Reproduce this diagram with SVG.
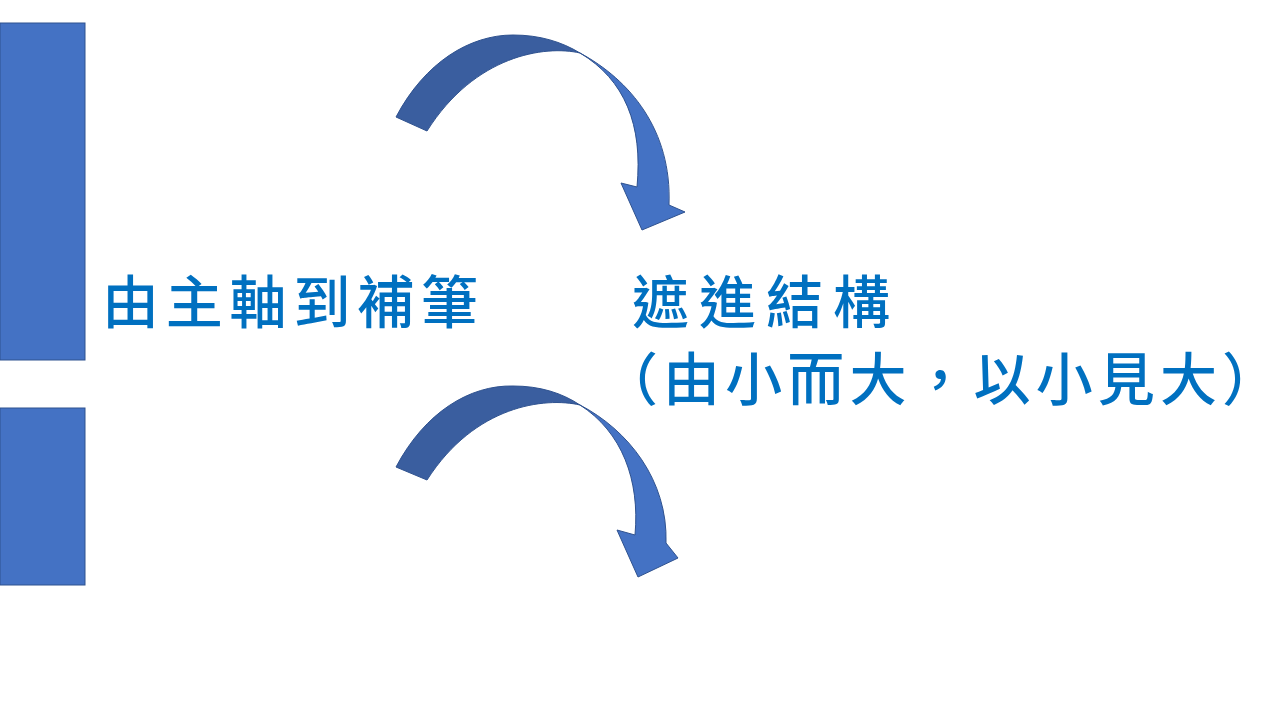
<svg xmlns="http://www.w3.org/2000/svg" width="1280" height="720" viewBox="0 0 1280 720">
<style>
.bar{fill:#4472C4;stroke:#2F528F;stroke-width:1}
.dark{fill:#3A5E9F;stroke:#2F528F;stroke-width:1}
.light{fill:#4472C4;stroke:#2F528F;stroke-width:1}
.t{font-family:"Noto Sans CJK TC","Noto Sans CJK SC",sans-serif;font-size:57px;fill:#0070C0;font-weight:500}
</style>
<rect width="1280" height="720" fill="#FFFFFF"/>
<g id="bar1"><rect class="bar" x="0" y="23" width="85" height="337"/></g>
<g id="bar2"><rect class="bar" x="0" y="408" width="85" height="177"/></g>
<g id="label-left"><text class="t" x="102" y="323" textLength="376" lengthAdjust="spacing">由主軸到補筆</text></g>
<g id="label-right">
<text class="t" x="632" y="323" textLength="258" lengthAdjust="spacing">遮進結構</text>
<text class="t" x="601" y="400" textLength="678" lengthAdjust="spacing">（由小而大，以小見大）</text>
</g>
<g id="connectors">
<g id="arrow1">
<path class="dark" d="M396,117 C425,62 470,35 513,35 C540,35 562,42 580,53 C545,45 475,55 427,131 Z"/>
<path class="light" d="M580,53 C630,80 672,130 669,205 L685,212 L642,230 L621,183 L637,187 C643,125 625,80 580,53 Z"/>
</g>
<g id="arrow2">
<path class="dark" d="M396,467 C425,412 470,385 513,386 C540,386 562,393 580,405 C545,397 475,405 427,480 Z"/>
<path class="light" d="M580,405 C628,430 668,480 666,543 L678,558 L638,577 L617,530 L635,535 C640,480 622,432 580,405 Z"/>
</g>
</g>
</svg>
